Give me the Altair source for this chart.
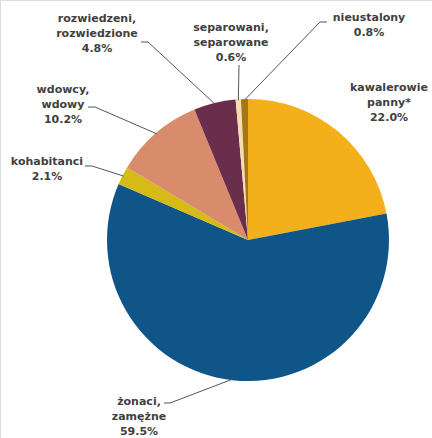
import math
import altair as alt
import pandas as pd

# ---- data ----
categories = ["kawalerowie, panny*", "żonaci, zamężne", "kohabitanci",
              "wdowcy, wdowy", "rozwiedzeni, rozwiedzione",
              "separowani, separowane", "nieustalony"]
values = [22.0, 59.5, 2.1, 10.2, 4.8, 0.6, 0.8]
label_texts = [["kawalerowie", "panny*", "22.0%"],
               ["żonaci,", "zamężne", "59.5%"],
               ["kohabitanci", "2.1%"],
               ["wdowcy,", "wdowy", "10.2%"],
               ["rozwiedzeni,", "rozwiedzione", "4.8%"],
               ["separowani,", "separowane", "0.6%"],
               ["nieustalony", "0.8%"]]

# ---- styles / layout ----
colors = ["#F4B01A", "#0F5588", "#D6BA16", "#D98C6B", "#6A2D4B", "#F6DDB0", "#A67614"]
CX, CY, R = 248, 240, 141
# label first-line centres (pixels)
label_pos = [(389, 88), (139, 402), (47, 162), (63, 90), (97, 19), (231, 28), (369, 18)]
# leader start point and short horizontal tick length (None = no leader)
leader_start = [None, (164, 403, 6), (85, 166, 7), (88, 107, 7), (141, 42, 7), (239, 65, 0), (327, 22, -7)]

FONT = "DejaVu Sans"

arc_df = pd.DataFrame({"category": categories, "value": values,
                       "order": list(range(len(values)))})

# leader lines: end point on the slice's mid angle, computed from the data
total = sum(values)
rows = []
cum = 0.0
for i, v in enumerate(values):
    mid = (cum + v / 2) / total * 2 * math.pi
    cum += v
    if leader_start[i] is None:
        continue
    sx, sy, tick = leader_start[i]
    ex = CX + (R - 1) * math.sin(mid)
    ey = CY - (R - 1) * math.cos(mid)
    pts = [(sx, sy), (sx + tick, sy), (ex, ey)]
    for k, (px, py) in enumerate(pts):
        rows.append({"category": categories[i], "seq": k, "px": px, "py": py})
line_df = pd.DataFrame(rows)

lab_df = pd.DataFrame({"category": categories,
                       "text": label_texts,
                       "px": [p[0] for p in label_pos],
                       "py": [p[1] for p in label_pos]})

pie = alt.Chart(arc_df).mark_arc(outerRadius=R, stroke=None).encode(
    theta=alt.Theta("value:Q", stack=True),
    color=alt.Color("category:N", scale=alt.Scale(domain=categories, range=colors), legend=None),
    order=alt.Order("order:Q"),
    x=alt.value(CX),
    y=alt.value(CY),
)

leaders = alt.Chart(line_df).mark_line(color="#555555", strokeWidth=1).encode(
    x=alt.X("px:Q", scale=None),
    y=alt.Y("py:Q", scale=None),
    detail="category:N",
    order="seq:Q",
)

labels = alt.Chart(lab_df).mark_text(
    font=FONT, fontSize=11, fontWeight="bold", color="#3f3f3f",
    align="center", baseline="middle", lineHeight=15,
).encode(
    x=alt.X("px:Q", scale=None),
    y=alt.Y("py:Q", scale=None),
    text="text",
)

chart = alt.layer(pie, leaders, labels).properties(
    width=432, height=438,
    autosize=alt.AutoSizeParams(type="none"),
    padding=0,
).configure_view(stroke=None).configure(background="white")

chart.save("out.html", embed_options={"renderer": "svg", "actions": False})
